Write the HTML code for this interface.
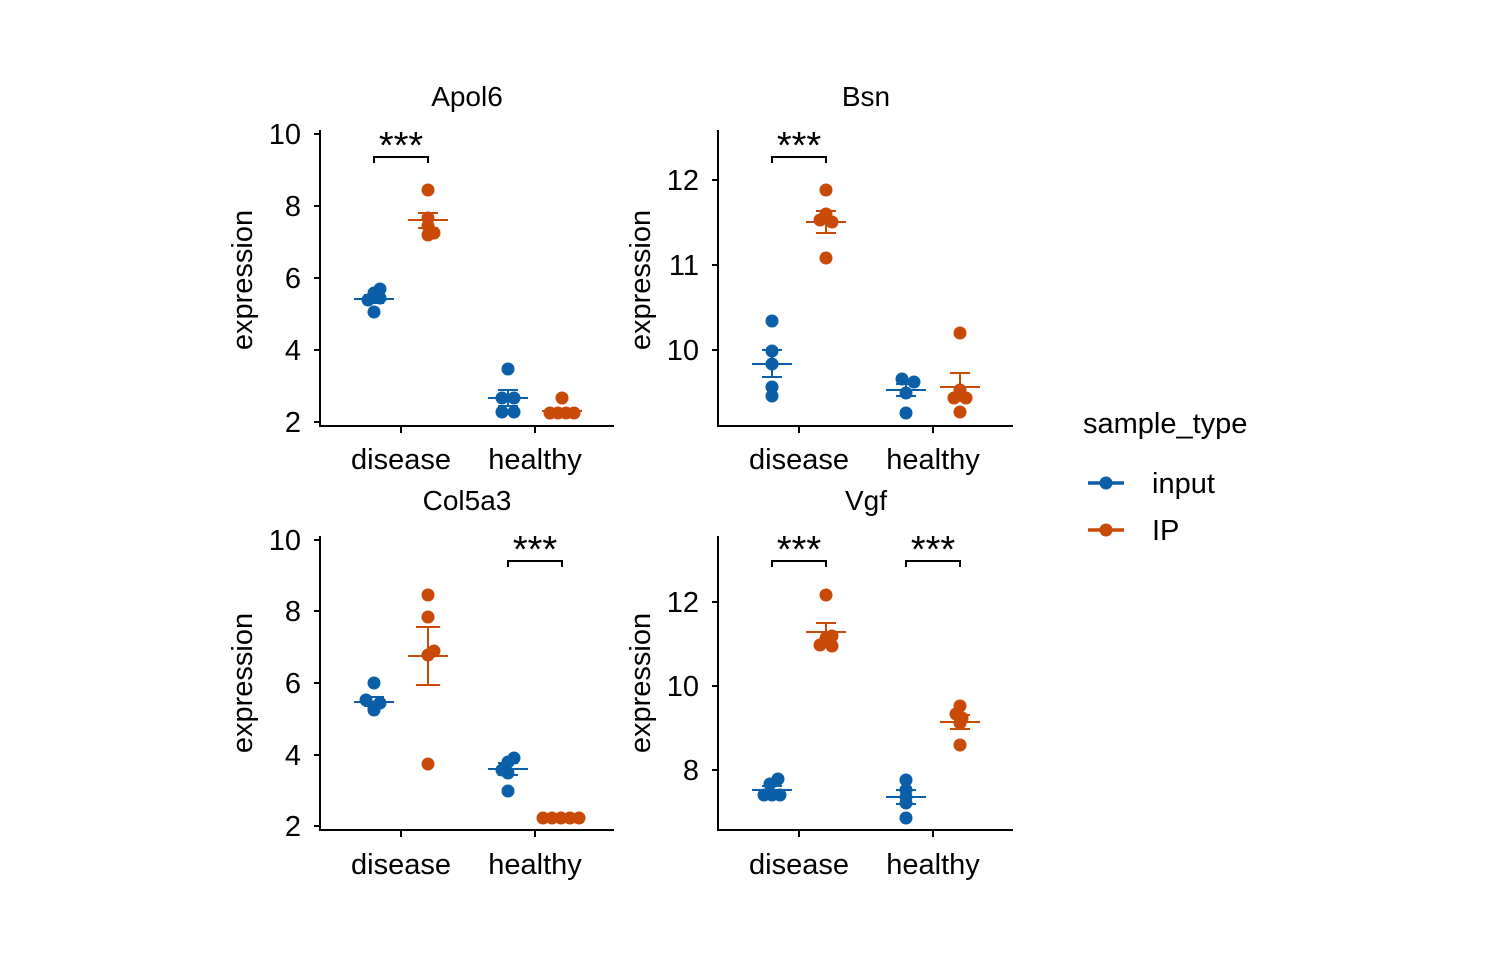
<!DOCTYPE html>
<html><head><style>body{margin:0;background:#fff}svg{display:block}text{font-family:"Liberation Sans",Arial,sans-serif;fill:#000}</style></head>
<body>
<svg width="1500" height="960" viewBox="0 0 1500 960" xmlns="http://www.w3.org/2000/svg">
<defs><style>.ax{stroke:#000;stroke-width:2;fill:none}.b{fill:#0b5ea8}.o{fill:#c94a06}.bl{stroke:#0b5ea8;stroke-width:2}.ol{stroke:#c94a06;stroke-width:2}.t{font-size:29px}.tk{font-size:29px}.ttl{font-size:28px}.st{font-size:38px}</style></defs>

<!-- Panel TL -->
<g>
<text class="ttl" x="467" y="106" text-anchor="middle">Apol6</text>
<path class="ax" d="M320,130 V426 H614"/>
<path class="ax" d="M314,134H320M314,206H320M314,278H320M314,350H320M314,422H320M401,426V433M535,426V433"/>
<g class="tk" text-anchor="end"><text x="301" y="144">10</text><text x="301" y="216">8</text><text x="301" y="288">6</text><text x="301" y="360">4</text><text x="301" y="432">2</text></g>
<g class="t" text-anchor="middle"><text x="401" y="469">disease</text><text x="535" y="469">healthy</text></g>
<text class="t" transform="translate(252,280) rotate(-90)" text-anchor="middle">expression</text>
<path class="ax" d="M374,163V157H428V163"/><text class="st" x="401" y="158" text-anchor="middle">***</text>
<g class="b"><circle cx="380" cy="289" r="6.5"/><circle cx="374" cy="293" r="6.5"/><circle cx="380" cy="298" r="6.5"/><circle cx="368" cy="300" r="6.5"/><circle cx="374" cy="312" r="6.5"/>
<circle cx="508" cy="369" r="6.5"/><circle cx="502" cy="398" r="6.5"/><circle cx="514" cy="398" r="6.5"/><circle cx="502" cy="412" r="6.5"/><circle cx="514" cy="412" r="6.5"/></g>
<g class="o"><circle cx="428" cy="190" r="6.5"/><circle cx="428" cy="218" r="6.5"/><circle cx="428" cy="226" r="6.5"/><circle cx="428" cy="235" r="6.5"/><circle cx="434" cy="233" r="6.5"/>
<circle cx="562" cy="398" r="6.5"/><circle cx="550" cy="413" r="6.5"/><circle cx="558" cy="413" r="6.5"/><circle cx="566" cy="413" r="6.5"/><circle cx="574" cy="413" r="6.5"/></g>
<g class="bl"><path d="M354,299H394M364,295H384M364,303H384M488,398H528M498,390H518M498,406H518M374,295V303M508,390V406"/></g>
<g class="ol"><path d="M408,220H448M418,213H438M418,228H438M428,213V228M542,411H582"/></g>
</g>

<!-- Panel TR -->
<g>
<text class="ttl" x="866" y="106" text-anchor="middle">Bsn</text>
<path class="ax" d="M718,130 V426 H1013"/>
<path class="ax" d="M712,180H718M712,265H718M712,350H718M799,426V433M933,426V433"/>
<g class="tk" text-anchor="end"><text x="699" y="190">12</text><text x="699" y="275">11</text><text x="699" y="360">10</text></g>
<g class="t" text-anchor="middle"><text x="799" y="469">disease</text><text x="933" y="469">healthy</text></g>
<text class="t" transform="translate(650,280) rotate(-90)" text-anchor="middle">expression</text>
<path class="ax" d="M772,163V157H826V163"/><text class="st" x="799" y="158" text-anchor="middle">***</text>
<g class="b"><circle cx="772" cy="321" r="6.5"/><circle cx="772" cy="351" r="6.5"/><circle cx="772" cy="364" r="6.5"/><circle cx="772" cy="387" r="6.5"/><circle cx="772" cy="396" r="6.5"/>
<circle cx="902" cy="379" r="6.5"/><circle cx="914" cy="382" r="6.5"/><circle cx="906" cy="393" r="6.5"/><circle cx="906" cy="413" r="6.5"/></g>
<g class="o"><circle cx="826" cy="190" r="6.5"/><circle cx="826" cy="214" r="6.5"/><circle cx="820" cy="220" r="6.5"/><circle cx="832" cy="222" r="6.5"/><circle cx="826" cy="258" r="6.5"/>
<circle cx="960" cy="333" r="6.5"/><circle cx="960" cy="390" r="6.5"/><circle cx="966" cy="398" r="6.5"/><circle cx="954" cy="398" r="6.5"/><circle cx="960" cy="412" r="6.5"/></g>
<g class="bl"><path d="M752,364H792M762,350H782M762,377H782M772,350V377M886,390H926M896,384H916M896,396H916M906,384V396"/></g>
<g class="ol"><path d="M806,222H846M816,211H836M816,233H836M826,211V233M940,387H980M950,373H970M950,401H970M960,373V401"/></g>
</g>

<!-- Panel BL -->
<g>
<text class="ttl" x="467" y="510" text-anchor="middle">Col5a3</text>
<path class="ax" d="M320,536 V830 H614"/>
<path class="ax" d="M314,540H320M314,611H320M314,683H320M314,755H320M314,826H320M401,830V837M535,830V837"/>
<g class="tk" text-anchor="end"><text x="301" y="550">10</text><text x="301" y="621">8</text><text x="301" y="693">6</text><text x="301" y="765">4</text><text x="301" y="836">2</text></g>
<g class="t" text-anchor="middle"><text x="401" y="874">disease</text><text x="535" y="874">healthy</text></g>
<text class="t" transform="translate(252,683) rotate(-90)" text-anchor="middle">expression</text>
<path class="ax" d="M508,567V561H562V567"/><text class="st" x="535" y="562" text-anchor="middle">***</text>
<g class="b"><circle cx="374" cy="683" r="6.5"/><circle cx="366" cy="700" r="6.5"/><circle cx="380" cy="703" r="6.5"/><circle cx="374" cy="707" r="6.5"/><circle cx="374" cy="710" r="6.5"/>
<circle cx="514" cy="758" r="6.5"/><circle cx="508" cy="762" r="6.5"/><circle cx="502" cy="770" r="6.5"/><circle cx="508" cy="773" r="6.5"/><circle cx="508" cy="791" r="6.5"/></g>
<g class="o"><circle cx="428" cy="595" r="6.5"/><circle cx="428" cy="617" r="6.5"/><circle cx="434" cy="651" r="6.5"/><circle cx="428" cy="655" r="6.5"/><circle cx="428" cy="764" r="6.5"/>
<circle cx="543" cy="818" r="6.5"/><circle cx="552" cy="818" r="6.5"/><circle cx="561" cy="818" r="6.5"/><circle cx="570" cy="818" r="6.5"/><circle cx="579" cy="818" r="6.5"/></g>
<g class="bl"><path d="M354,702H394M364,697H384M364,706H384M488,769H528M498,763H518M498,775H518M508,763V775"/></g>
<g class="ol"><path d="M408,656H448M416,627H440M416,685H440M428,627V685M542,818H582"/></g>
</g>

<!-- Panel BR -->
<g>
<text class="ttl" x="866" y="510" text-anchor="middle">Vgf</text>
<path class="ax" d="M718,536 V830 H1013"/>
<path class="ax" d="M712,602H718M712,686H718M712,770H718M799,830V837M933,830V837"/>
<g class="tk" text-anchor="end"><text x="699" y="612">12</text><text x="699" y="696">10</text><text x="699" y="780">8</text></g>
<g class="t" text-anchor="middle"><text x="799" y="874">disease</text><text x="933" y="874">healthy</text></g>
<text class="t" transform="translate(650,683) rotate(-90)" text-anchor="middle">expression</text>
<path class="ax" d="M772,567V561H826V567M906,567V561H960V567"/><text class="st" x="799" y="562" text-anchor="middle">***</text><text class="st" x="933" y="562" text-anchor="middle">***</text>
<g class="b"><circle cx="778" cy="779" r="6.5"/><circle cx="770" cy="784" r="6.5"/><circle cx="764" cy="795" r="6.5"/><circle cx="772" cy="795" r="6.5"/><circle cx="780" cy="795" r="6.5"/>
<circle cx="906" cy="780" r="6.5"/><circle cx="906" cy="790" r="6.5"/><circle cx="906" cy="797" r="6.5"/><circle cx="906" cy="803" r="6.5"/><circle cx="906" cy="818" r="6.5"/></g>
<g class="o"><circle cx="826" cy="595" r="6.5"/><circle cx="832" cy="636" r="6.5"/><circle cx="826" cy="638" r="6.5"/><circle cx="820" cy="645" r="6.5"/><circle cx="832" cy="646" r="6.5"/>
<circle cx="960" cy="706" r="6.5"/><circle cx="956" cy="714" r="6.5"/><circle cx="962" cy="718" r="6.5"/><circle cx="960" cy="723" r="6.5"/><circle cx="960" cy="745" r="6.5"/></g>
<g class="bl"><path d="M752,790H792M762,786H782M762,793H782M886,797H926M896,790H916M896,804H916M906,790V804"/></g>
<g class="ol"><path d="M806,632H846M816,623H836M816,642H836M826,623V642M940,722H980M950,715H970M950,729H970M960,715V729"/></g>
</g>

<!-- Legend -->
<text x="1083" y="433" font-size="29">sample_type</text>
<path d="M1088,483H1124" style="stroke:#0b5ea8;stroke-width:3.5"/><circle class="b" cx="1106" cy="483" r="6.5"/>
<text x="1152" y="493" font-size="29">input</text>
<path d="M1088,530H1124" style="stroke:#c94a06;stroke-width:3.5"/><circle class="o" cx="1106" cy="530" r="6.5"/>
<text x="1152" y="540" font-size="29">IP</text>
</svg>
</body></html>
